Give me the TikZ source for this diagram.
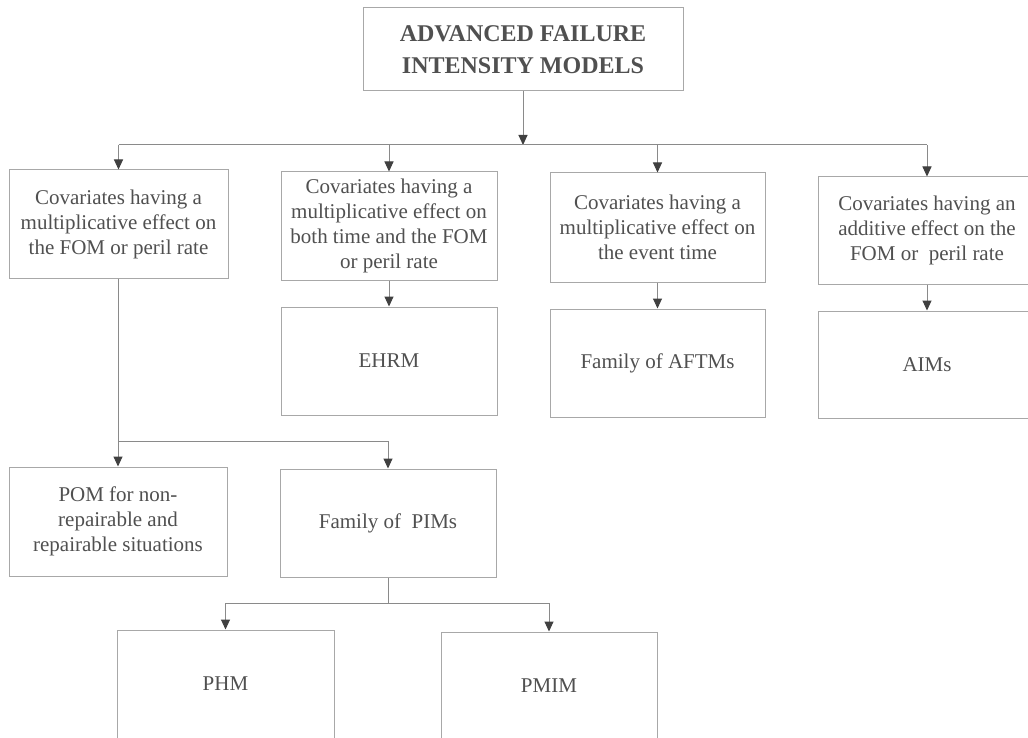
\documentclass[tikz,border=0pt]{standalone}
\usepackage{fontspec}
\setmainfont{Liberation Serif}
\usetikzlibrary{arrows.meta}
\definecolor{boxline}{HTML}{A8A8A8}
\definecolor{conline}{HTML}{8A8A8A}
\definecolor{txt}{HTML}{505050}
\definecolor{tip}{HTML}{404040}
\tikzset{
  box/.style={draw=boxline, line width=1pt, rectangle, align=center, text=txt,
    inner sep=0pt, font=\fontsize{21}{25}\selectfont},
  bw/.style={minimum width=#1},
  titlebox/.style={box, font=\fontsize{24}{32}\selectfont\bfseries},
  con/.style={draw=conline, line width=1pt},
  arr/.style={con, -{Triangle[width=9pt,length=10pt,color=tip]}}
}
\begin{document}
\begin{tikzpicture}[x=1pt,y=-1pt]
\useasboundingbox (0,0) rectangle (1028,738);
\clip (0,0) rectangle (1028,738);
\fill[white] (0,0) rectangle (1028,738);
% nodes
\node[titlebox, minimum width=320pt, minimum height=83pt] (top) at (523,49.5) {ADVANCED FAILURE\\INTENSITY MODELS};
\node[box, minimum width=219pt, minimum height=108pt] (b1) at (118.5,224) {Covariates having a\\multiplicative effect on\\the FOM or peril rate};
\node[box, minimum width=216pt, minimum height=108pt] (b2) at (389,226) {Covariates having a\\multiplicative effect on\\both time and the FOM\\or peril rate};
\node[box, minimum width=215pt, minimum height=109pt] (b3) at (657.5,227.5) {Covariates having a\\multiplicative effect on\\the event time};
\node[box, minimum width=218pt, minimum height=107pt] (b4) at (927,230.5) {Covariates having an\\additive effect on the\\FOM or \ peril rate};
\node[box, minimum width=216pt, minimum height=108pt] (ehrm) at (389,361) {EHRM};
\node[box, minimum width=215pt, minimum height=108pt] (aftm) at (657.5,363) {Family of AFTMs};
\node[box, minimum width=218pt, minimum height=107pt] (aims) at (927,364.5) {AIMs};
\node[box, minimum width=218pt, minimum height=109pt] (pom) at (118,521.5) {POM for non-\\repairable and\\repairable situations};
\node[box, minimum width=216pt, minimum height=108pt] (pims) at (388,523) {Family of \ PIMs};
\node[box, minimum width=217pt, minimum height=108pt] (phm) at (225.5,684) {PHM};
\node[box, minimum width=216pt, minimum height=108pt] (pmim) at (549,686) {PMIM};
% bus coordinates
\coordinate (bus1) at (523,145);
\coordinate (bus2) at (118,441);
\coordinate (bus3) at (388,603);
% top level
\draw[arr] (top.south) -- (top.south |- bus1);
\draw[con] (b1.north |- bus1) -- (b4.north |- bus1);
\draw[arr] (b1.north |- bus1) -- (b1.north);
\draw[arr] (b2.north |- bus1) -- (b2.north);
\draw[arr] (b3.north |- bus1) -- (b3.north);
\draw[arr] (b4.north |- bus1) -- (b4.north);
% second level
\draw[arr] (b2.south) -- (ehrm.north);
\draw[arr] (b3.south) -- (aftm.north);
\draw[arr] (b4.south) -- (aims.north);
% left branch
\draw[con] (b1.south) -- (b1.south |- bus2) -- (pims.north |- bus2);
\draw[arr] (pom.north |- bus2) -- (pom.north);
\draw[arr] (pims.north |- bus2) -- (pims.north);
% PIM branch
\draw[con] (pims.south) -- (pims.south |- bus3);
\draw[con] (phm.north |- bus3) -- (pmim.north |- bus3);
\draw[arr] (phm.north |- bus3) -- (phm.north);
\draw[arr] (pmim.north |- bus3) -- (pmim.north);
\end{tikzpicture}
\end{document}
